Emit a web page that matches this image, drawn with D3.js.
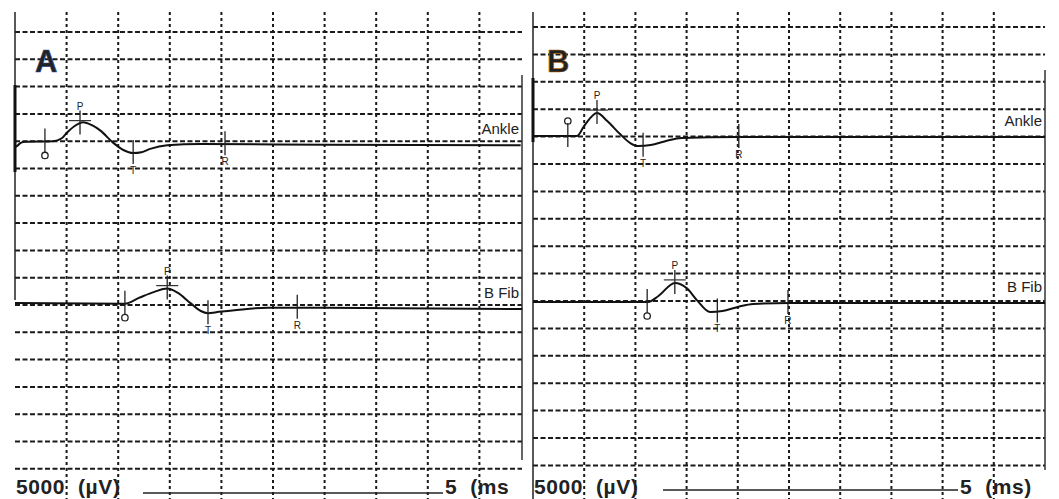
<!DOCTYPE html>
<html>
<head>
  <title>Nerve conduction traces A / B</title>
  <script src="https://d3js.org/d3.v7.min.js"></script>
  <style>
    body { margin: 0; background: #fff; }
    svg { display: block; }
    .grid line { stroke: #1a1a1a; stroke-width: 2; }
    .trace { fill: none; stroke: #111; stroke-width: 2; }
    .lbl { font-family: "Liberation Sans", Arial, sans-serif; fill: #222; }
    .cal { white-space: pre; letter-spacing: 0.6px; }
  </style>
</head>
<body>
  <div id="chart"></div>
  <script>
    // grid: 10 time divisions across, 16 amplitude divisions down
    const timeDivs = d3.range(1, 10);
    const ampDivs = d3.range(0, 17);

    // traces, time and amplitude both in grid divisions (amplitude relative to baseline)
    const ankleA_t = [0, 0.06, 0.12, 0.2, 0.74, 0.9, 1.0, 1.15, 1.32, 1.5, 1.65, 1.9, 2.1, 2.29, 2.45, 2.62, 2.95, 3.6, 6.0, 9.8];
    const ankleA_v = [-0.12, -0.04, 0.05, 0.08, 0.1, 0.2, 0.4, 0.65, 0.8, 0.68, 0.5, 0.05, -0.22, -0.33, -0.3, -0.18, -0.05, 0.0, -0.03, -0.05];
    const fibA_t = [0, 2.13, 2.4, 2.7, 2.95, 3.15, 3.4, 3.6, 3.74, 3.95, 4.3, 4.9, 6.0, 9.83];
    const fibA_v = [0.07, 0.05, 0.26, 0.48, 0.6, 0.45, 0.07, -0.22, -0.3, -0.25, -0.18, -0.1, -0.1, -0.15];
    const ankleB_t = [0, 0.86, 1.0, 1.25, 1.45, 1.7, 1.9, 2.05, 2.3, 2.6, 2.9, 4.0, 10];
    const ankleB_v = [0, 0.0, 0.37, 0.84, 0.55, 0.07, -0.26, -0.37, -0.33, -0.18, -0.07, -0.04, -0.04];
    const fibB_t = [0, 2.25, 2.45, 2.77, 3.0, 3.2, 3.46, 3.7, 4.0, 4.3, 5.0, 10];
    const fibB_v = [0, 0, 0.22, 0.7, 0.51, 0.07, -0.37, -0.33, -0.18, -0.07, -0.04, -0.04];

    // cursor markers (time in divisions)
    const markerNames = ["O", "P", "T", "R"];
    const ankleA_marks = [0.58, 1.26, 2.29, 4.07];
    const fibA_marks = [2.13, 2.95, 3.74, 5.47];
    const ankleB_marks = [0.68, 1.25, 2.15, 4.02];
    const fibB_marks = [2.23, 2.77, 3.6, 4.98];

    const traceNames = ["Ankle", "B Fib"];
    const panelNames = ["A", "B"];
    const ampScaleText = "5000  (\u00b5V)";
    const timeScaleText = ["5  (ms", "5  (ms)"];

    const W = 1059, H = 499;
    const svg = d3.select("#chart").append("svg").attr("width", W).attr("height", H);

    const panels = [
      { name: panelNames[0], x0: 15, x1: 531, right: 522, y0: 32, y1: 468.8,
        traces: [
          { t: ankleA_t, v: ankleA_v, base: 144, marks: ankleA_marks, oUp: false, label: traceNames[0], ly: 134 },
          { t: fibA_t, v: fibA_v, base: 305, marks: fibA_marks, oUp: false, label: traceNames[1], ly: 298 }
        ],
        timeText: timeScaleText[0], barX: [143, 443], barY: 493, border: [75, 460] },
      { name: panelNames[1], x0: 533, x1: 1045, right: 1045, y0: 27, y1: 465.4,
        traces: [
          { t: ankleB_t, v: ankleB_v, base: 136, marks: ankleB_marks, oUp: true, label: traceNames[0], ly: 126 },
          { t: fibB_t, v: fibB_v, base: 302, marks: fibB_marks, oUp: false, label: traceNames[1], ly: 292 }
        ],
        timeText: timeScaleText[1], barX: [663, 958], barY: 490, border: [70, 470] }
    ];

    panels.forEach(function(p, pi) {
      const g = svg.append("g");
      const x = d3.scaleLinear().domain([0, 10]).range([p.x0, p.x1]);
      const yGrid = d3.scaleLinear().domain([0, 16]).range([p.y0, p.y1]);

      // dashed grid
      const grid = g.append("g").attr("class", "grid");
      grid.selectAll(".h").data(ampDivs).enter().append("line")
        .attr("x1", p.x0).attr("x2", p.right)
        .attr("y1", d => yGrid(d)).attr("y2", d => yGrid(d))
        .attr("stroke-dasharray", "5,2.5");
      grid.selectAll(".v").data(timeDivs).enter().append("line")
        .attr("x1", d => x(d)).attr("x2", d => x(d))
        .attr("y1", 12).attr("y2", H)
        .attr("stroke-dasharray", "3,3");

      // frame edges
      g.append("line").attr("x1", p.x0).attr("x2", p.x0).attr("y1", 12).attr("y2", pi === 0 ? 300 : H)
        .attr("stroke", "#222").attr("stroke-width", 1.5);
      g.append("line").attr("x1", p.x0).attr("x2", p.x0)
        .attr("y1", pi === 0 ? 85 : 78).attr("y2", pi === 0 ? 172 : 142)
        .attr("stroke", "#111").attr("stroke-width", 3);
      g.append("line").attr("x1", p.right).attr("x2", p.right).attr("y1", p.border[0]).attr("y2", p.border[1])
        .attr("stroke", "#333").attr("stroke-width", 1.5);

      p.traces.forEach(function(tr) {
        const y = d3.scaleLinear().domain([-1, 1]).range([tr.base + 27.3, tr.base - 27.3]);
        const pts = tr.t.map((t, i) => [t, tr.v[i]]);
        const interp = d3.scaleLinear().domain(tr.t).range(tr.v);

        g.append("path").attr("class", "trace")
          .attr("d", d3.line().x(d => x(d[0])).y(d => y(d[1])).curve(d3.curveMonotoneX)(pts));

        // cursors
        tr.marks.forEach(function(m, mi) {
          const cx = x(m), cy = y(interp(m));
          const name = markerNames[mi];
          g.append("line").attr("x1", cx).attr("x2", cx).attr("y1", cy - 13).attr("y2", cy + 11)
            .attr("stroke", "#222").attr("stroke-width", 1.3);
          if (name === "O") {
            g.append("circle").attr("cx", cx).attr("cy", tr.oUp ? cy - 15 : cy + 14).attr("r", 3.2)
              .attr("fill", "none").attr("stroke", "#222").attr("stroke-width", 1.3);
          } else if (name === "P") {
            g.append("line").attr("x1", cx - 11).attr("x2", cx + 11).attr("y1", cy - 3).attr("y2", cy - 3)
              .attr("stroke", "#333").attr("stroke-width", 1.2);
            g.append("text").attr("class", "lbl").attr("x", cx).attr("y", cy - 14)
              .attr("text-anchor", "middle").attr("font-size", 10).text(name);
          } else {
            g.append("text").attr("class", "lbl").attr("x", cx).attr("y", cy + 21)
              .attr("text-anchor", "middle").attr("font-size", 10).text(name);
          }
        });

        g.append("text").attr("class", "lbl").attr("x", p.right - 3).attr("y", tr.ly)
          .attr("text-anchor", "end").attr("font-size", 15).text(tr.label);
      });

      // panel letter
      g.append("text").attr("class", "lbl").attr("x", p.x0 + (pi === 0 ? 20 : 14)).attr("y", 72)
        .attr("font-size", 31).attr("font-weight", "bold").attr("fill", "#000")
        .attr("stroke", pi === 0 ? "#2a4a9a" : "#b86a10").attr("stroke-width", 0.6)
        .text(p.name);

      // calibration text and bar
      g.append("text").attr("class", "lbl cal").attr("x", p.x0 + 1).attr("y", 494)
        .attr("font-size", 21).attr("font-weight", "bold").attr("fill", "#111")
        .text(ampScaleText);
      g.append("line").attr("x1", p.barX[0]).attr("x2", p.barX[1]).attr("y1", p.barY).attr("y2", p.barY)
        .attr("stroke", "#222").attr("stroke-width", 1.6);
      g.append("text").attr("class", "lbl cal").attr("x", p.barX[1] + 2).attr("y", 494)
        .attr("font-size", 21).attr("font-weight", "bold").attr("fill", "#111")
        .text(p.timeText);
    });
  </script>
</body>
</html>
